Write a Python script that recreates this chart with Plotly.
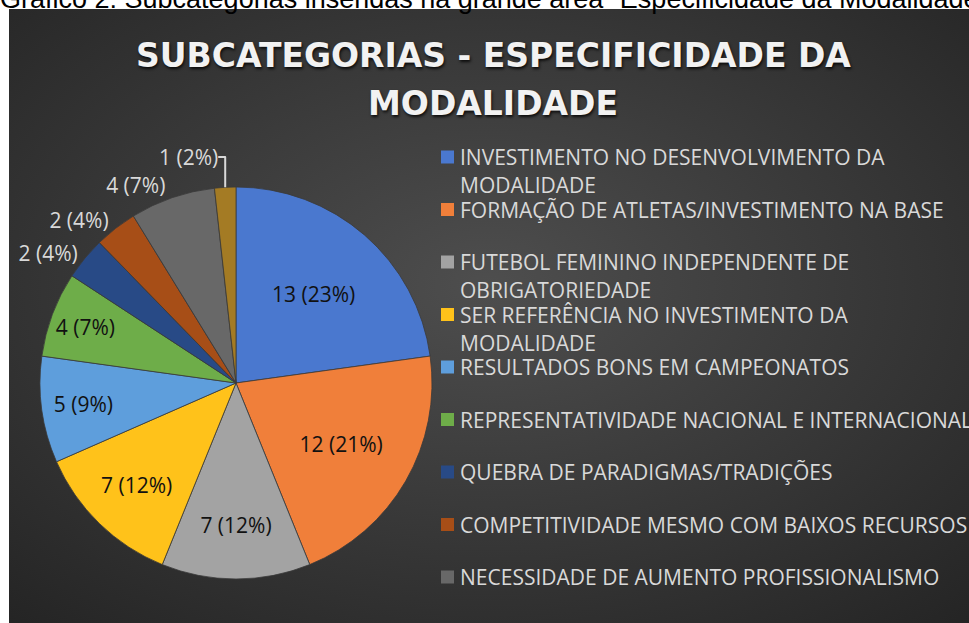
import base64
import plotly.graph_objects as go

# ---------------- data ----------------
categories = [
    "INVESTIMENTO NO DESENVOLVIMENTO DA<br>MODALIDADE",
    "FORMAÇÃO DE ATLETAS/INVESTIMENTO NA BASE",
    "FUTEBOL FEMININO INDEPENDENTE DE<br>OBRIGATORIEDADE",
    "SER REFERÊNCIA NO INVESTIMENTO DA<br>MODALIDADE",
    "RESULTADOS BONS EM CAMPEONATOS",
    "REPRESENTATIVIDADE NACIONAL E INTERNACIONAL",
    "QUEBRA DE PARADIGMAS/TRADIÇÕES",
    "COMPETITIVIDADE MESMO COM BAIXOS RECURSOS",
    "NECESSIDADE DE AUMENTO PROFISSIONALISMO",
    "OUTROS",
]
values = [13, 12, 7, 7, 5, 4, 2, 2, 4, 1]
title_lines = ["SUBCATEGORIAS - ESPECIFICIDADE DA", "MODALIDADE"]
caption = "Gráfico 2: Subcategorias inseridas na grande área \u201cEspecificidade da Modalidade\u201d"

# ---------------- style ----------------
W, H = 969, 623
colors = ["#4A78CF", "#F07F3A", "#A3A3A3", "#FFC21A", "#5E9EDC",
          "#6EAD49", "#284A86", "#A74E17", "#686868", "#A47B24"]
textpos = ["inside", "inside", "inside", "inside", "inside", "inside",
           "outside", "outside", "outside", "outside"]
FONT = "Open Sans"
LIGHT = "#D9D9D9"
N_LEGEND_VISIBLE = 9  # the last legend entry lies below the visible frame


def px(x):
    return x / W


def py(y):
    return 1 - y / H


# radial gradient background (style only)
svg = """<svg xmlns='http://www.w3.org/2000/svg' width='960' height='614'>
<defs><radialGradient id='g' cx='50%' cy='45%' r='75%'>
<stop offset='0%' stop-color='#4E4E4E'/><stop offset='100%' stop-color='#242424'/>
</radialGradient></defs><rect width='960' height='614' fill='url(#g)'/></svg>"""
bg_src = "data:image/svg+xml;base64," + base64.b64encode(svg.encode()).decode()

cx, cy, r = 236, 383, 196

fig = go.Figure(go.Pie(
    labels=categories,
    values=values,
    sort=False,
    direction="clockwise",
    rotation=0,
    marker=dict(colors=colors, line=dict(color="#3A3A3A", width=0.8)),
    texttemplate="%{value} (%{percent:.0%})",
    textposition=textpos,
    insidetextorientation="horizontal",
    insidetextfont=dict(family=FONT, size=21, color="#111111"),
    outsidetextfont=dict(family=FONT, size=21, color=LIGHT),
    showlegend=False,
    hoverinfo="label+value+percent",
    domain=dict(x=[px(cx - r), px(cx + r)], y=[py(cy + r), py(cy - r)]),
))

annotations = []
shapes = []

# title
for i, t in enumerate(title_lines):
    annotations.append(dict(text=f"<b>{t}</b>", x=px(493), y=py(55 + 48 * i),
                            xref="paper", yref="paper", showarrow=False,
                            xanchor="center", yanchor="middle",
                            font=dict(family="DejaVu Sans", size=33, color="#F2F2F2",
                                      shadow="1px 2px 3px rgba(0,0,0,0.8)")))

# caption (cut at top, as in the source page)
annotations.append(dict(text=caption, x=px(-2), y=py(-1), xref="paper", yref="paper",
                        showarrow=False, xanchor="left", yanchor="middle",
                        font=dict(family="Liberation Sans", size=27, color="#000000")))

# manual legend
for i, (cat, col) in enumerate(zip(categories[:N_LEGEND_VISIBLE], colors)):
    yc = 157 + 52.5 * i
    shapes.append(dict(type="rect", xref="paper", yref="paper",
                       x0=px(441), x1=px(454), y0=py(yc + 6.5), y1=py(yc - 6.5),
                       fillcolor=col, line=dict(width=0)))
    for j, line in enumerate(cat.split("<br>")):
        annotations.append(dict(text=line, x=px(458), y=py(yc + 28 * j),
                                xref="paper", yref="paper", showarrow=False,
                                xanchor="left", yanchor="middle",
                                font=dict(family=FONT, size=21, color=LIGHT)))

fig.update_layout(
    width=W, height=H,
    margin=dict(l=0, r=0, t=0, b=0),
    paper_bgcolor="white",
    plot_bgcolor="white",
    images=[dict(source=bg_src, xref="paper", yref="paper",
                 x=px(9), y=py(9), sizex=px(W) - px(9), sizey=py(9),
                 sizing="stretch", xanchor="left", yanchor="top", layer="below")],
    annotations=annotations,
    shapes=shapes,
    uniformtext=dict(minsize=21, mode="show"),
)

fig.write_html("out.html", config={"displayModeBar": False},
               post_script="document.body.style.margin='0';document.body.style.overflow='hidden';")
